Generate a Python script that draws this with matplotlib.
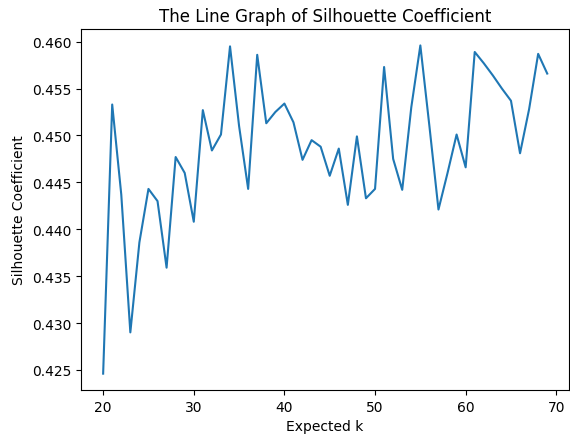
import matplotlib
matplotlib.use("Agg")
import matplotlib.pyplot as plt

# expected number of clusters and the silhouette score for each
k_values = list(range(20, 70))
silhouette = [0.4246, 0.4533, 0.4437, 0.4290, 0.4386, 0.4443, 0.4430, 0.4359, 0.4477, 0.4460,
              0.4408, 0.4527, 0.4484, 0.4501, 0.4595, 0.4510, 0.4443, 0.4586, 0.4513, 0.4525,
              0.4534, 0.4514, 0.4474, 0.4495, 0.4488, 0.4457, 0.4486, 0.4426, 0.4499, 0.4433,
              0.4443, 0.4573, 0.4475, 0.4442, 0.4530, 0.4596, 0.4510, 0.4421, 0.4460, 0.4501,
              0.4466, 0.4589, 0.4577, 0.4564, 0.4550, 0.4537, 0.4481, 0.4528, 0.4587, 0.4566]

fig = plt.figure(figsize=(5.7, 4.35), dpi=100)
ax = fig.add_subplot(111)
fig.subplots_adjust(left=0.142, right=0.999, top=0.931, bottom=0.101)

ax.plot(k_values, silhouette)
ax.set_title('The Line Graph of Silhouette Coefficient')
ax.set_xlabel('Expected k')
ax.set_ylabel('Silhouette Coefficient')

fig.savefig('out.png')
